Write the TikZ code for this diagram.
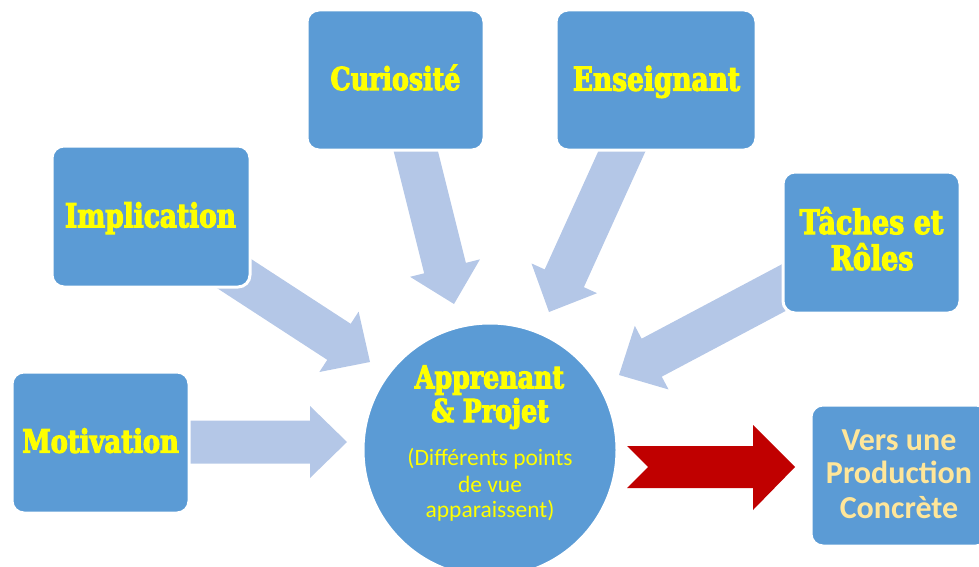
\documentclass[tikz,border=0pt]{standalone}
\usepackage{fontspec}
\usetikzlibrary{calc}
\newfontfamily\slabfont{DejaVu Serif}[FakeStretch=0.8,FakeBold=3.2]
\newfontfamily\bodyfont{Carlito}
\definecolor{boxblue}{HTML}{5B9BD5}
\definecolor{paleblue}{HTML}{B4C7E7}
\definecolor{darkred}{HTML}{C00000}
\definecolor{titleyellow}{HTML}{FFFF00}
\definecolor{softgold}{HTML}{FFE699}

\tikzset{
  card/.style={draw=white, line width=3pt, fill=boxblue, rounded corners=12pt,
    minimum width=177pt, minimum height=141pt, inner sep=0pt},
  hub/.style={circle, draw=white, line width=3pt, fill=boxblue,
    minimum size=254pt, inner sep=0pt},
  slabtext/.style={text=titleyellow, inner sep=0pt, anchor=base,
    font={\slabfont\bfseries\fontsize{#1}{#1}\selectfont}},
  subtext/.style={text=titleyellow, inner sep=0pt, anchor=base,
    font={\bodyfont\fontsize{23.5}{26}\selectfont}},
  goaltext/.style={text=softgold, inner sep=0pt, anchor=base,
    font={\bodyfont\bfseries\fontsize{32}{34}\selectfont}},
  flowfill/.style={fill=paleblue},
  outflow/.style={fill=darkred}
}

% wide block arrow from a tail point to a tip point
\newcommand\blockarrow[2]{%
  \coordinate (ah) at ($(#2)!37pt!(#1)$);
  \fill[flowfill] ($(#1)!21.5pt!90:(#2)$) -- ($(ah)!21.5pt!90:(#2)$)
    -- ($(ah)!36pt!90:(#2)$) -- (#2) -- ($(ah)!36pt!-90:(#2)$)
    -- ($(ah)!21.5pt!-90:(#2)$) -- ($(#1)!21.5pt!-90:(#2)$) -- cycle;
}

\begin{document}
\begin{tikzpicture}[x=1pt, y=-1pt]
\useasboundingbox (0,0) rectangle (979,567);
\clip (0,0) rectangle (979,567);

% arrow end points
\coordinate (motTail) at (180,442);
\coordinate (motTip)  at (347,442);
\coordinate (impTail) at (204,254);
\coordinate (impTip)  at (370,362);
\coordinate (curTail) at (413,140);
\coordinate (curTip)  at (454,304);
\coordinate (ensTail) at (627,140);
\coordinate (ensTip)  at (549,312);
\coordinate (tacTail) at (800,279);
\coordinate (tacTip)  at (619,375);

\blockarrow{motTail}{motTip}
\blockarrow{impTail}{impTip}
\blockarrow{curTail}{curTip}
\blockarrow{ensTail}{ensTip}
\blockarrow{tacTail}{tacTip}

% boxes
\node[card] (mot) at (100.5,442.5) {};
\node[card, minimum width=198pt] (imp) at (151,216.5) {};
\node[card, minimum height=140pt] (cur) at (395.5,80) {};
\node[card, minimum width=200pt, minimum height=140pt] (ens) at (656,80) {};
\node[card] (tac) at (871.5,242.5) {};
\node[card] (goal) at (899.5,475.5) {};
\node[hub] (hub) at (490,450) {};

% notched red arrow towards the production box
\coordinate (redTail) at (627,467);
\coordinate (redTip) at (795,467);
\fill[outflow] ($(redTail)+(0,-21)$) -- ($(redTip)+(-42,-21)$) -- ($(redTip)+(-42,-42)$)
  -- (redTip) -- ($(redTip)+(-42,43)$) -- ($(redTip)+(-42,21)$)
  -- ($(redTail)+(0,21)$) -- ($(redTail)+(21,0)$) -- cycle;

% labels
\node[slabtext=32.2] (tMot) at (100.5,452.7) {Motivation};
\node[slabtext=33] (tImp) at (150.5,227.3) {Implication};
\node[slabtext=31.6] (tCur) at (395.5,90) {Curiosité};
\node[slabtext=33] (tEns) at (656.5,90.7) {Enseignant};
\node[slabtext=33.7] (tTac1) at (871.5,234) {Tâches et};
\node[slabtext=33.7] (tTac2) at (872,270) {Rôles};
\node[slabtext=31.6] (tHub1) at (489.5,388.3) {Apprenant};
\node[slabtext=31.6] (tHub2) at (490,422) {\& Projet};
\node[subtext] (sHub1) at (490,465.7) {(Différents points};
\node[subtext] (sHub2) at (490,492) {de vue};
\node[subtext] (sHub3) at (490,517) {apparaissent)};
\node[goaltext] (tGoal1) at (899,450) {Vers une};
\node[goaltext] (tGoal2) at (899,483) {Production};
\node[goaltext] (tGoal3) at (899,518) {Concrète};
\end{tikzpicture}
\end{document}
